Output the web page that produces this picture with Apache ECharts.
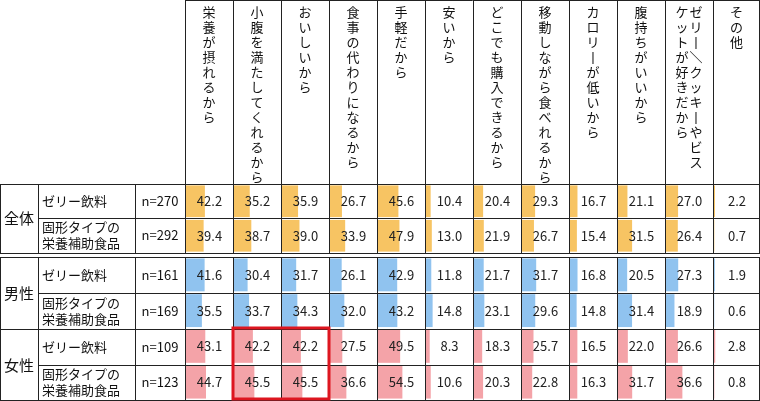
<!DOCTYPE html>
<html><head><meta charset="utf-8">
<script src="https://cdn.jsdelivr.net/npm/echarts@6/dist/echarts.min.js"></script>
<style>html,body{margin:0;padding:0;background:#fff}#c{width:760px;height:401px}</style>
</head><body><div id="c"></div>
<script>
const reasons = ['栄養が摂れるから','小腹を満たしてくれるから','おいしいから','食事の代わりになるから','手軽だから','安いから','どこでも購入できるから','移動しながら食べれるから','カロリーが低いから','腹持ちがいいから','ゼリー/クッキーやビスケットが好きだから','その他'];
const groups = ['全体','男性','女性'];
const products = ['ゼリー飲料','固形タイプの\n栄養補助食品'];
const nValues = ['n=270','n=292','n=161','n=169','n=109','n=123'];
const allJelly = [42.2,35.2,35.9,26.7,45.6,10.4,20.4,29.3,16.7,21.1,27.0,2.2];
const allSolid = [39.4,38.7,39.0,33.9,47.9,13.0,21.9,26.7,15.4,31.5,26.4,0.7];
const maleJelly = [41.6,30.4,31.7,26.1,42.9,11.8,21.7,31.7,16.8,20.5,27.3,1.9];
const maleSolid = [35.5,33.7,34.3,32.0,43.2,14.8,23.1,29.6,14.8,31.4,18.9,0.6];
const femaleJelly = [43.1,42.2,42.2,27.5,49.5,8.3,18.3,25.7,16.5,22.0,26.6,2.8];
const femaleSolid = [44.7,45.5,45.5,36.6,54.5,10.6,20.3,22.8,16.3,31.7,36.6,0.8];
const rows = [allJelly,allSolid,maleJelly,maleSolid,femaleJelly,femaleSolid];
const rowColors = ['#f7c463','#f7c463','#90c3ef','#90c3ef','#f4a3a8','#f4a3a8'];

const colX = [185,233,281,329,377,425,473,521,569,617,665,713,760];
const sec = [{top:184,h:69,rows:[0,1]},{top:257,h:143,rows:[2,3,4,5]}];
const FONT = '"Noto Sans CJK JP"';
const grid=[],xAxis=[],yAxis=[],series=[];
let gi=0;
for(let j=0;j<12;j++){
  sec.forEach(s=>{
    grid.push({left:colX[j]+1,top:s.top,width:colX[j+1]-colX[j]-1,height:s.h});
    xAxis.push({gridIndex:gi,type:'value',min:0,max:105,show:false});
    yAxis.push({gridIndex:gi,type:'category',inverse:true,data:s.rows.map(String),show:false});
    series.push({type:'bar',xAxisIndex:gi,yAxisIndex:gi,barCategoryGap:'8%',silent:true,
      data:s.rows.map(r=>({value:rows[r][j],itemStyle:{color:rowColors[r]}}))});
    series.push({type:'bar',xAxisIndex:gi,yAxisIndex:gi,barCategoryGap:'8%',barGap:'-100%',silent:true,
      itemStyle:{color:'rgba(0,0,0,0)'},
      data:s.rows.map(r=>({value:105,label:{show:true,position:'inside',formatter:rows[r][j].toFixed(1),
        color:'#222',fontSize:13,fontFamily:FONT}}))});
    gi++;
  });
}
const g=[];
const line=(x1,y1,x2,y2,w)=>g.push({type:'line',shape:{x1,y1,x2,y2},style:{stroke:'#222',lineWidth:w||1},z:50});
[184,253,257,329,400].forEach(y=>line(0,y+0.5,760,y+0.5));
[218,293,365].forEach(y=>line(38,y+0.5,760,y+0.5));
line(185,0.5,760,0.5);
[0.5,38.5,135.5].forEach(x=>{line(x,184,x,253);line(x,257,x,401);});
colX.forEach((x,i)=>{const xx=i==12?759.5:x+0.5;line(xx,0,xx,253);line(xx,257,xx,401);});
const vert=s=>s.replace(/ー/g,'丨').replace(/\//g,'＼').split('').join('\n');
const HF='13px '+FONT;
reasons.forEach((r,j)=>{
  const cx=(colX[j]+colX[j+1])/2;
  if(j===10){
    g.push({type:'text',x:cx+7,y:5,style:{text:vert('ゼリー/クッキーやビス'),font:HF,align:'center',lineHeight:15,fill:'#111'}});
    g.push({type:'text',x:cx-7,y:5,style:{text:vert('ケットが好きだから'),font:HF,align:'center',lineHeight:15,fill:'#111'}});
  } else {
    g.push({type:'text',x:cx,y:5,style:{text:vert(r),font:HF,align:'center',lineHeight:15,fill:'#111'}});
  }
});
groups.forEach((t,i)=>{
  const yc=i==0?218.5:(i==1?293:365);
  g.push({type:'text',x:19,y:yc,style:{text:t,font:'15px '+FONT,align:'center',verticalAlign:'middle',fill:'#111'}});
});
const rowC=[201,235.5,275,311,347,382.5];
rowC.forEach((yc,r)=>{
  g.push({type:'text',x:42,y:yc,style:{text:products[r%2],font:'13px '+FONT,align:'left',verticalAlign:'middle',lineHeight:16,fill:'#111'}});
  g.push({type:'text',x:160,y:yc,style:{text:nValues[r],font:'13px '+FONT,align:'center',verticalAlign:'middle',fill:'#111'}});
});
g.push({type:'rect',shape:{x:233,y:328,width:96,height:71},style:{fill:null,stroke:'#dd1620',lineWidth:3},z:60});
const chart=echarts.init(document.getElementById('c'));
chart.setOption({animation:false,backgroundColor:'#fff',grid,xAxis,yAxis,series,graphic:g});
</script></body></html>
